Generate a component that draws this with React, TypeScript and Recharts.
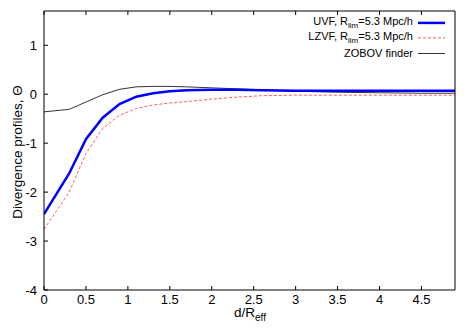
import { LineChart, Line, XAxis, YAxis } from 'recharts';

const distances = [0, 0.3, 0.5, 0.7, 0.9, 1.1, 1.3, 1.5, 1.7, 2.0, 2.3, 2.6, 3.0, 3.5, 4.0, 4.5, 4.9];
const uvf = [-2.45, -1.62, -0.92, -0.48, -0.2, -0.05, 0.02, 0.06, 0.08, 0.09, 0.09, 0.08, 0.07, 0.07, 0.07, 0.07, 0.07];
const lzvf = [-2.76, -2.0, -1.21, -0.7, -0.43, -0.29, -0.22, -0.18, -0.15, -0.1, -0.06, -0.03, -0.02, -0.02, -0.02, -0.02, -0.02];
const zobov = [-0.36, -0.31, -0.16, -0.01, 0.1, 0.15, 0.16, 0.16, 0.15, 0.13, 0.11, 0.09, 0.06, 0.04, 0.03, 0.02, 0.02];

const xTicks = [0, 0.5, 1, 1.5, 2, 2.5, 3, 3.5, 4, 4.5];
const yTicks = [-4, -3, -2, -1, 0, 1];

const FONT = '"Liberation Sans", Arial, sans-serif';

const data = distances.map((d, i) => ({ d, uvf: uvf[i], lzvf: lzvf[i], zobov: zobov[i] }));

const legendRows = [
  { name: 'UVF', sub: true, color: '#0000ff', width: 2.5, dash: undefined as string | undefined },
  { name: 'LZVF', sub: true, color: '#ff6060', width: 1, dash: '3 2' },
  { name: 'ZOBOV finder', sub: false, color: '#000', width: 0.8, dash: undefined },
];

const noLabel = () => <g />;

export default function App() {
  return (
    <div style={{ position: 'fixed', left: 0, top: 0, width: 469, height: 328, background: '#fff', fontFamily: FONT }}>
      <LineChart width={469} height={328} data={data} margin={{ top: 10, right: 13, left: 0, bottom: 0 }}>
        <XAxis
          dataKey="d"
          type="number"
          domain={[0, 4.9]}
          ticks={xTicks}
          allowDataOverflow
          height={38}
          tickSize={-4}
          tickMargin={9}
          stroke="#000"
          tick={{ fill: '#000', fontSize: 13, fontFamily: FONT }}
        />
        <XAxis
          xAxisId="top"
          orientation="top"
          dataKey="d"
          type="number"
          domain={[0, 4.9]}
          ticks={xTicks}
          height={1}
          tickSize={-4}
          stroke="#000"
          tick={noLabel}
        />
        <YAxis
          type="number"
          domain={[-4, 1.7]}
          ticks={yTicks}
          allowDataOverflow
          width={44}
          tickSize={-4}
          tickMargin={11}
          stroke="#000"
          tick={{ fill: '#000', fontSize: 13, fontFamily: FONT }}
        />
        <YAxis
          yAxisId="right"
          orientation="right"
          type="number"
          domain={[-4, 1.7]}
          ticks={yTicks}
          width={1}
          tickSize={-4}
          stroke="#000"
          tick={noLabel}
        />
        <Line dataKey="zobov" type="linear" stroke="#000" strokeWidth={0.8} dot={false} isAnimationActive={false} />
        <Line dataKey="lzvf" type="linear" stroke="#ff6060" strokeWidth={1} strokeDasharray="3 2" dot={false} isAnimationActive={false} />
        <Line dataKey="uvf" type="linear" stroke="#0000ff" strokeWidth={2.5} dot={false} isAnimationActive={false} />
      </LineChart>

      {/* y axis title */}
      <div
        style={{
          position: 'absolute',
          left: 18,
          top: 152,
          transform: 'translate(-50%, -50%) rotate(-90deg)',
          whiteSpace: 'nowrap',
          fontSize: 13.5,
          lineHeight: 1,
        }}
      >
        Divergence profiles, Θ
      </div>

      {/* x axis title */}
      <div style={{ position: 'absolute', left: 250, top: 306, transform: 'translateX(-50%)', fontSize: 13.5, lineHeight: 1, whiteSpace: 'nowrap' }}>
        d/R<sub style={{ fontSize: 10, lineHeight: 1 }}>eff</sub>
      </div>

      {/* legend */}
      {legendRows.map((r, i) => (
        <div key={r.name} style={{ position: 'absolute', right: 469 - 445, top: 23 + i * 15, transform: 'translateY(-50%)', display: 'flex', alignItems: 'center', fontSize: 11, lineHeight: 1, whiteSpace: 'nowrap' }}>
          <span>
            {r.name}
            {r.sub && (
              <>
                , R<sub style={{ fontSize: 8, lineHeight: 1 }}>lim</sub>=5.3 Mpc/h
              </>
            )}
          </span>
          <svg width={27} height={6} style={{ marginLeft: 5 }}>
            <line x1={0} x2={27} y1={3} y2={3} stroke={r.color} strokeWidth={r.width} strokeDasharray={r.dash} />
          </svg>
        </div>
      ))}
    </div>
  );
}
